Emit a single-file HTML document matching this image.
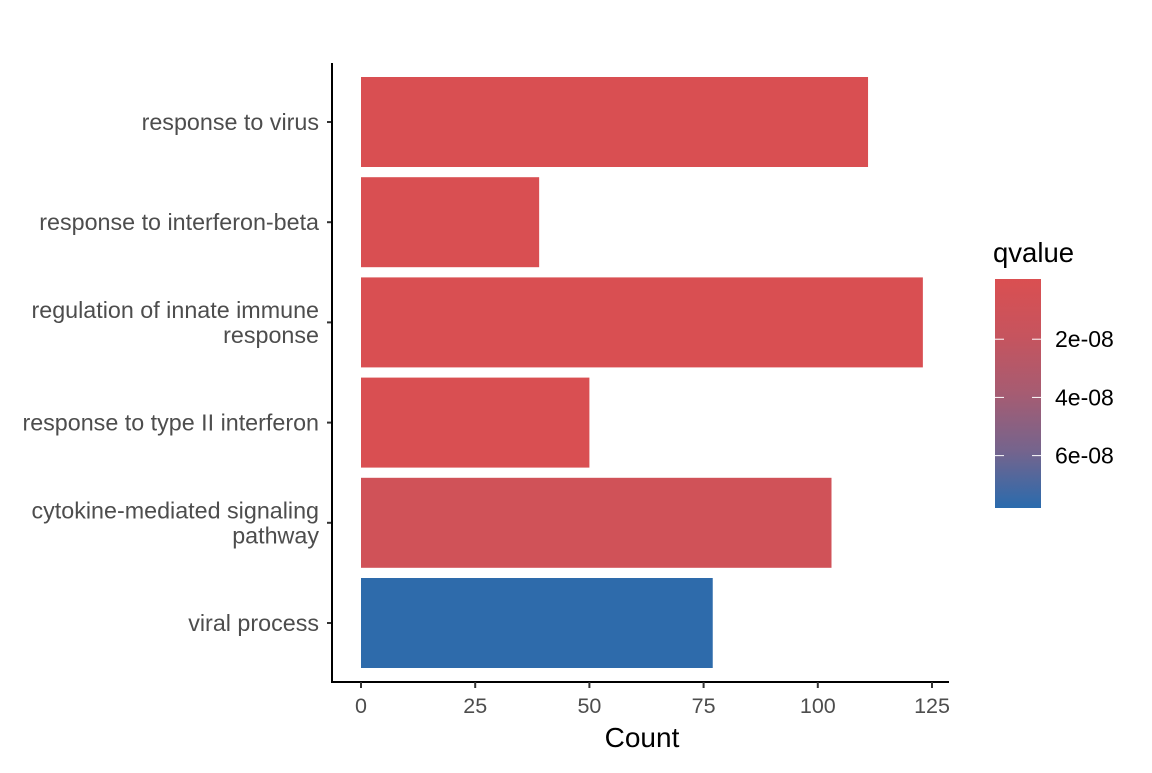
<!DOCTYPE html>
<html><head><meta charset="utf-8"><style>
body{margin:0;background:#fff;}
text{font-family:"Liberation Sans",Arial,sans-serif;}
</style></head><body>
<svg id="chart" width="1152" height="768" xmlns="http://www.w3.org/2000/svg">
<defs>
<linearGradient id="grad" x1="0" y1="0" x2="0" y2="1">
<stop offset="0" stop-color="#DA4F51"/>
<stop offset="0.25" stop-color="#C6545E"/>
<stop offset="0.5" stop-color="#A65C72"/>
<stop offset="0.75" stop-color="#75648D"/>
<stop offset="1" stop-color="#2A6BAD"/>
</linearGradient>
</defs>
<g id="bars"></g>
<g id="axes"></g>
<text x="642" y="747" font-size="28" text-anchor="middle" fill="#000">Count</text>
<g>
<text x="993" y="262" font-size="27.5" fill="#000">qvalue</text>
<rect x="995" y="279" width="46" height="229" fill="url(#grad)"/>
<g id="legendTicks"></g>
</g>
</svg>
<script>
const categories=["response to virus","response to interferon-beta","regulation of innate immune\nresponse","response to type II interferon","cytokine-mediated signaling\npathway","viral process"];
const counts=[111,39,123,50,103,77];
const qvalues=[1e-9,1e-9,1e-9,1e-9,1e-8,7.7e-8];
const xTicks=[0,25,50,75,100,125];
const legendTicks=[2e-8,4e-8,6e-8];
const legendLabels=["2e-08","4e-08","6e-08"];
const NS="http://www.w3.org/2000/svg";
const x=v=>361+v*(932-361)/125;
const yc=i=>122+i*100.2;
const qMin=0,qMax=7.8e-8;
const ly=q=>281+(q-qMin)/(qMax-qMin)*(508-281);
function lerp(a,b,t){return Math.round(a+(b-a)*t);}
const stops=[[218,79,81],[198,84,94],[166,92,114],[117,100,141],[42,107,173]];
function color(q){let t=Math.max(0,Math.min(1,(q-qMin)/(qMax-qMin)))*4;let i=Math.min(3,Math.floor(t));let f=t-i;const a=stops[i],b=stops[i+1];return `rgb(${lerp(a[0],b[0],f)},${lerp(a[1],b[1],f)},${lerp(a[2],b[2],f)})`;}
function mk(tag,attrs,parent){const e=document.createElementNS(NS,tag);for(const k in attrs)e.setAttribute(k,attrs[k]);parent.appendChild(e);return e;}
const bars=document.getElementById('bars'),axes=document.getElementById('axes');
categories.forEach((c,i)=>{
 const r=mk('rect',{x:x(0),y:yc(i)-45,width:x(counts[i])-x(0),height:90,fill:color(qvalues[i])},bars);
 
 
 const lines=c.split('\n');
 const t=mk('text',{x:319,'font-size':23.3,fill:'#4d4d4d','text-anchor':'end'},axes);
 
 
 lines.forEach((l,j)=>{const ts=mk('tspan',{x:319,y:yc(i)+8+(j-(lines.length-1)/2)*25},t);ts.textContent=l;});
 mk('line',{x1:327,x2:332,y1:yc(i),y2:yc(i),stroke:'#333','stroke-width':2},axes);
});
const ya=mk('line',{x1:332,x2:332,y1:63,y2:683,stroke:'#000','stroke-width':2},axes);


const xa=mk('line',{x1:331,x2:949,y1:682,y2:682,stroke:'#000','stroke-width':2},axes);


xTicks.forEach(v=>{
 mk('line',{x1:x(v),x2:x(v),y1:682,y2:688,stroke:'#333','stroke-width':2},axes);
 const t=mk('text',{x:x(v),y:713,'font-size':21.5,fill:'#4d4d4d','text-anchor':'middle'},axes);
 
 
 t.textContent=v;
});
const lt=document.getElementById('legendTicks');
legendTicks.forEach((q,i)=>{
 mk('line',{x1:995,x2:1004,y1:ly(q),y2:ly(q),stroke:'#fff','stroke-width':1},lt);
 mk('line',{x1:1032,x2:1041,y1:ly(q),y2:ly(q),stroke:'#fff','stroke-width':1},lt);
 const t=mk('text',{x:1055,y:ly(q)+8,'font-size':23,fill:'#000'},lt);
 
 
 t.textContent=legendLabels[i];
});
</script>
</body></html>
